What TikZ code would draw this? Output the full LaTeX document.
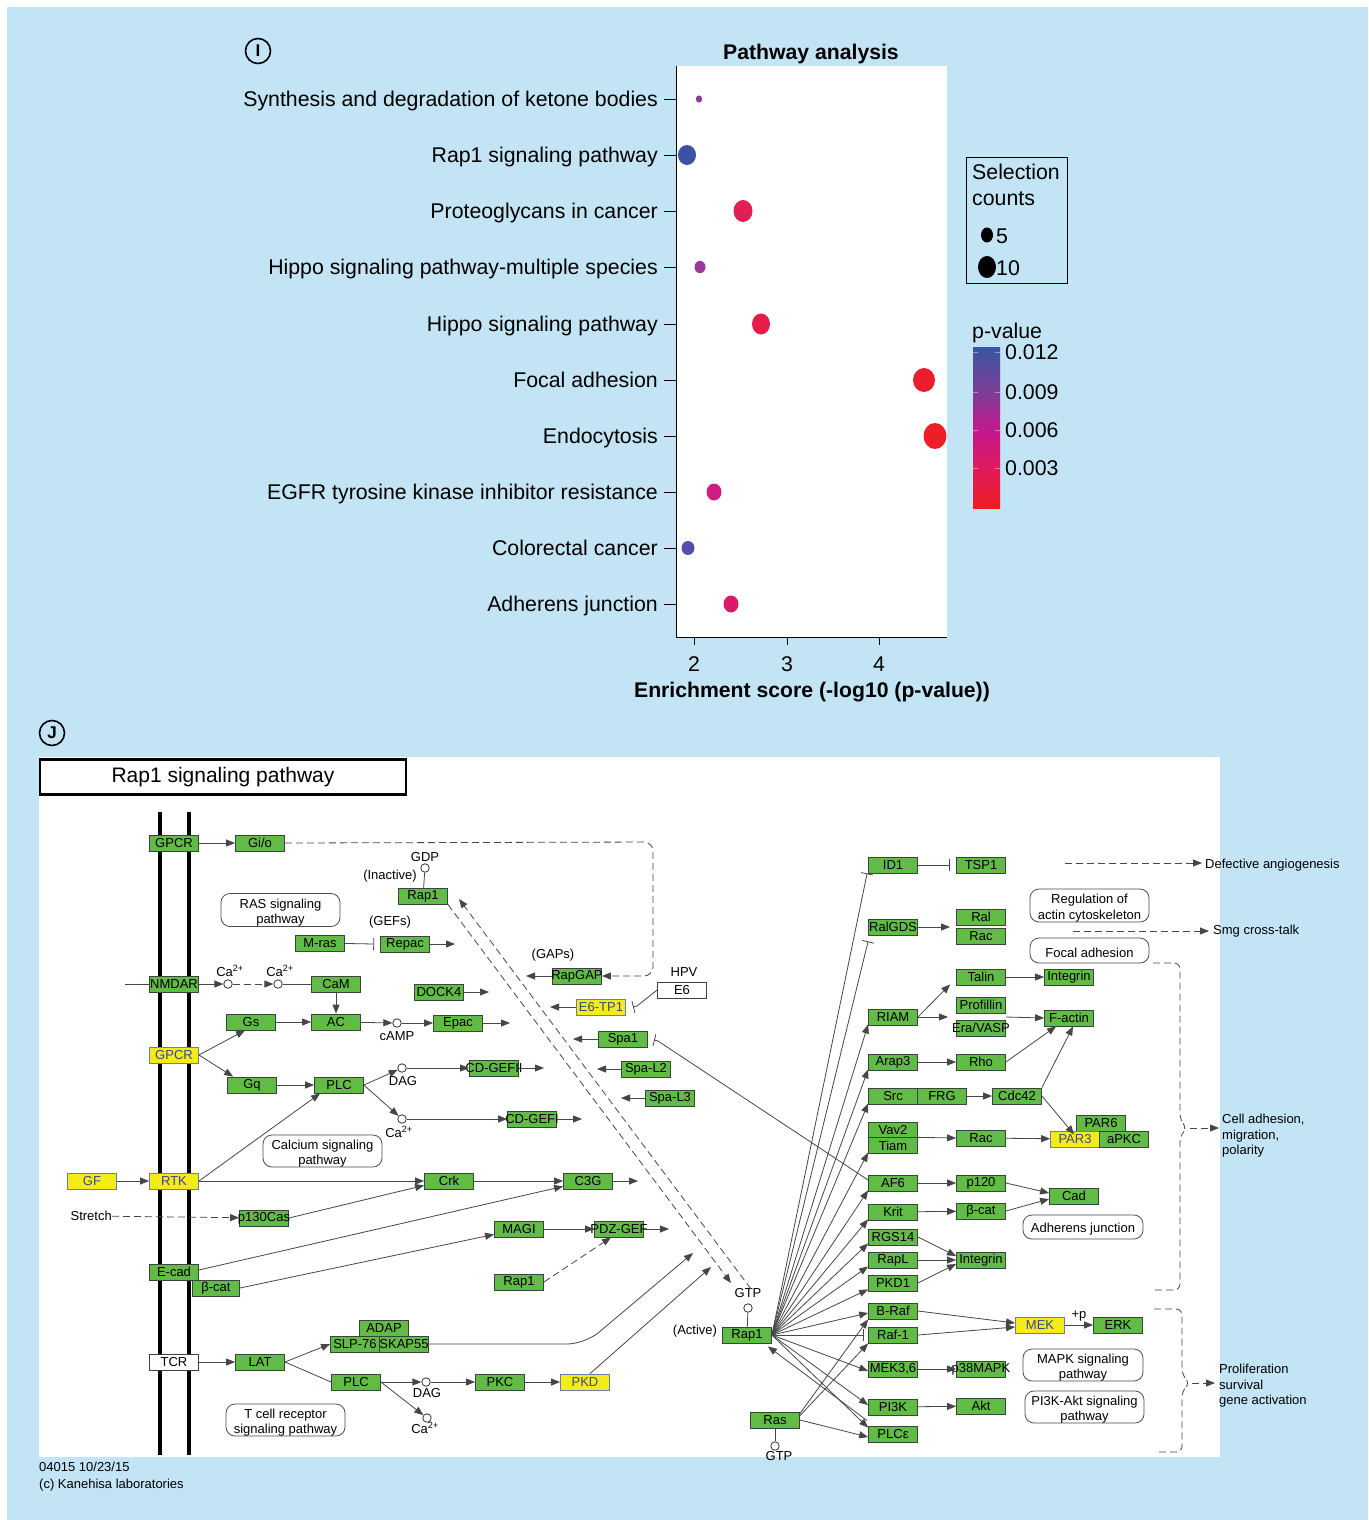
\documentclass[tikz,border=0pt]{standalone}
\usepackage{fontspec}
\setmainfont{Liberation Sans}
\usetikzlibrary{arrows.meta}
\definecolor{bgblue}{RGB}{194,228,245}
\definecolor{kgreen}{RGB}{98,187,71}
\definecolor{kborder}{RGB}{55,70,55}
\definecolor{kyellow}{RGB}{244,236,22}
\definecolor{kyborder}{RGB}{110,120,190}
\definecolor{kytext}{RGB}{60,70,150}
\definecolor{lgray}{RGB}{70,70,70}
\definecolor{pblue}{RGB}{58,84,164}
\definecolor{ppur}{RGB}{125,62,150}
\definecolor{pmag}{RGB}{196,24,140}
\definecolor{pcrim}{RGB}{225,26,90}
\definecolor{pred}{RGB}{237,28,36}
\definecolor{dA}{RGB}{140,60,155}
\definecolor{dB}{RGB}{60,80,165}
\definecolor{dC}{RGB}{226,30,86}
\definecolor{dD}{RGB}{150,58,155}
\definecolor{dE}{RGB}{228,30,72}
\definecolor{dF}{RGB}{235,30,44}
\definecolor{dG}{RGB}{236,30,40}
\definecolor{dH}{RGB}{205,30,130}
\definecolor{dI}{RGB}{85,78,168}
\definecolor{dJ}{RGB}{216,28,105}
\pgfdeclareverticalshading{pvshade}{100bp}{color(0bp)=(pred); color(25bp)=(pred); color(37bp)=(pcrim); color(49bp)=(pmag); color(61bp)=(ppur); color(75bp)=(pblue); color(100bp)=(pblue)}
\newcommand\kfont{\fontsize{13}{15.5}\selectfont}
\newcommand\afont{\fontsize{21.3}{25}\selectfont}
\newcommand\tfont{\fontsize{21.2}{25}\selectfont\bfseries}
\tikzset{
  gene/.style={draw=kborder, fill=kgreen, minimum width=49pt, minimum height=16pt, inner sep=0pt, font=\kfont, line width=0.8pt},
  ygene/.style={gene, draw=kyborder, fill=kyellow, text=kytext},
  wgene/.style={gene, fill=white},
  pwy/.style={draw=black!70, rounded corners=9pt, fill=white, inner sep=0pt, line width=0.8pt},
  pwytext/.style={font=\kfont, align=center, inner sep=0pt, yshift=-2.5pt},
  lbl/.style={font=\kfont, inner sep=0pt},
  cpd/.style={circle, draw=black!80, fill=white, minimum size=8.5pt, inner sep=0pt, line width=0.8pt},
  act/.style={draw=lgray, line width=0.8pt, -{Triangle[length=9pt,width=7pt]}},
  inh/.style={draw=lgray, line width=0.8pt, -{Bar[width=12pt]}},
  pln/.style={draw=lgray, line width=0.8pt},
  dsh/.style={dash pattern=on 7pt off 4pt},
  rlab/.style={font=\afont, anchor=east, inner sep=0pt, text height=15pt, text depth=4pt},
  leglab/.style={font=\afont, anchor=west, inner sep=0pt, text height=15pt, text depth=4pt},
  panlet/.style={circle, draw, line width=1.6pt, minimum size=25pt, inner sep=0pt, font=\fontsize{17}{17}\selectfont\bfseries}
}
\begin{document}
\begin{tikzpicture}[x=1pt,y=-1pt]
\useasboundingbox (0,0) rectangle (1368,1520);
\fill[white] (0,0) rectangle (1368,1520);
\fill[bgblue] (7,7) rectangle (1368,1520);

% ---------------- Panel I ----------------
\node[panlet] (letI) at (258,51) {I};
\fill[white] (676,66) rectangle (947,637);
\node[font=\tfont] (ptitle) at (811,54) {Pathway analysis};
\draw[line width=0.9pt] (676,66) -- (676,637) -- (947,637);
\foreach \n/\y/\t in {r1/99/Synthesis and degradation of ketone bodies, r2/155/Rap1 signaling pathway, r3/211/Proteoglycans in cancer, r4/267/Hippo signaling pathway-multiple species, r5/324/Hippo signaling pathway, r6/380/Focal adhesion, r7/436/Endocytosis, r8/492/EGFR tyrosine kinase inhibitor resistance, r9/548/Colorectal cancer, r10/604/Adherens junction}{
  \node[rlab] (\n) at (658,\y+2) {\t};
  \draw[line width=0.9pt] (664,\y) -- (676,\y);
}
\foreach \n/\x/\t in {x2/694/2, x3/787/3, x4/879/4}{
  \draw[line width=0.9pt] (\x,637) -- (\x,645);
  \node[font=\afont, inner sep=0pt] (\n) at (\x,664) {\t};
}
\node[font=\tfont] (xtitle) at (812,692) {Enrichment score (-log10 (p-value))};
\foreach \x/\y/\rx/\ry/\c in {699/99/3.2/3.6/dA, 687/155/9/10/dB, 743/211/9.5/11/dC, 700/267/5.5/6.2/dD, 761/324/9/10.5/dE, 924/380/11/12/dF, 935/436/11.5/13/dG, 714/492/7.5/8.5/dH, 688/548/6.5/7/dI, 731/604/7.5/8.5/dJ}{
  \fill[\c] (\x,\y) ellipse [x radius=\rx pt, y radius=\ry pt];
}
% legend
\draw[line width=0.9pt] (966,157) rectangle (1067,283);
\node[leglab] (selA) at (972,174) {Selection};
\node[leglab] (selB) at (972,200) {counts};
\fill[black] (987,235) ellipse [x radius=6pt, y radius=7.5pt];
\node[leglab] (s5) at (996,238) {5};
\fill[black] (987,267) ellipse [x radius=9pt, y radius=11pt];
\node[leglab] (s10) at (996,270) {10};
\node[leglab] (pv) at (972,333) {p-value};
\shade[shading=pvshade] (973,347) rectangle (1000,508);
\foreach \n/\y/\t in {p1/352/0.012, p2/392/0.009, p3/430/0.006, p4/468/0.003}{
  \node[leglab] (\n) at (1005,\y+2) {\t};
  \draw[white, opacity=0.4, line width=0.6pt] (973,\y) -- (978,\y) (995,\y) -- (1000,\y);
}

% ---------------- Panel J ----------------
\node[panlet] (letJ) at (52,733) {J};
\fill[white] (39,757) rectangle (1220,1457);
\node[draw, line width=2.6pt, fill=white, minimum width=366pt, minimum height=35pt, font=\fontsize{21}{24}\selectfont] (ptitleJ) at (223,777) {Rap1 signaling pathway};
\draw[line width=4pt] (160,812) -- (160,1455);
\draw[line width=4pt] (189,812) -- (189,1455);
\node[lbl, anchor=west] (foot1) at (39,1467) {04015 10/23/15};
\node[lbl, anchor=west] (foot2) at (39,1485) {(c) Kanehisa laboratories};

% pathway boxes
\node[pwy, minimum width=119pt, minimum height=33pt, label={[pwytext]center:RAS signaling\\pathway}] (rasp) at (280.5,910) {};
\node[pwy, minimum width=119pt, minimum height=32pt, label={[pwytext]center:Calcium signaling\\pathway}] (calp) at (322.5,1151) {};
\node[pwy, minimum width=119pt, minimum height=32pt, label={[pwytext]center:T cell receptor\\signaling pathway}] (tcrp) at (285.5,1420) {};
\node[pwy, minimum width=119pt, minimum height=33pt, label={[pwytext]center:Regulation of\\actin cytoskeleton}] (actp) at (1089.5,905.5) {};
\node[pwy, minimum width=119pt, minimum height=25pt, label={[pwytext]center:Focal adhesion}] (focp) at (1089.5,950.5) {};
\node[pwy, minimum width=120pt, minimum height=24pt, label={[pwytext]center:Adherens junction}] (adjp) at (1083,1227) {};
\node[pwy, minimum width=120pt, minimum height=32pt, label={[pwytext]center:MAPK signaling\\pathway}] (mapp) at (1083,1365) {};
\node[pwy, minimum width=119pt, minimum height=32pt, label={[pwytext]center:PI3K-Akt signaling\\pathway}] (pi3p) at (1084.5,1407) {};

% genes - left
\node[gene] (gpcrA) at (174,843) {GPCR};
\node[gene] (gio) at (260,843) {Gi/o};
\node[gene] (mras) at (320,943) {M-ras};
\node[gene] (nmdar) at (174,984) {NMDAR};
\node[gene] (cam) at (336,984) {CaM};
\node[gene] (gs) at (251,1022) {Gs};
\node[gene] (ac) at (336,1022) {AC};
\node[ygene] (gpcrB) at (174,1055) {GPCR};
\node[gene] (gq) at (252,1085) {Gq};
\node[gene] (plcA) at (339,1085) {PLC};
\node[ygene] (gf) at (92,1181) {GF};
\node[ygene] (rtk) at (174,1181) {RTK};
\node[gene, label={[lbl]center:p130Cas}] (pcas) at (264,1218) {};
\node[gene] (ecad) at (174,1272) {E-cad};
\node[gene, minimum width=47pt] (bcatA) at (216,1288) {β-cat};
\node[wgene] (tcr) at (174,1362) {TCR};
\node[gene] (lat) at (260,1362) {LAT};
\node[gene] (adap) at (384,1328) {ADAP};
\node[gene] (slp) at (355,1344) {SLP-76};
\node[gene, label={[lbl]center:SKAP55}] (skap) at (404,1344) {};
\node[gene] (plcB) at (356,1382) {PLC};
\node[gene] (pkc) at (500,1382) {PKC};
\node[ygene] (pkd) at (585,1382) {PKD};
% genes - middle
\node[gene] (rap1i) at (423,896) {Rap1};
\node[gene] (repac) at (405,944) {Repac};
\node[gene] (dock4) at (439,992) {DOCK4};
\node[gene] (epac) at (458,1023) {Epac};
\node[gene, label={[lbl]center:CD-GEFII}] (cdgef2) at (494,1068) {};
\node[gene, label={[lbl]center:CD-GEFI}] (cdgef1) at (532,1119) {};
\node[gene] (crk) at (449,1181) {Crk};
\node[gene] (c3g) at (588,1181) {C3G};
\node[gene] (magi) at (519,1229) {MAGI};
\node[gene, label={[lbl]center:PDZ-GEF}] (pdzgef) at (619,1229) {};
\node[gene] (rap1m) at (519,1282) {Rap1};
\node[gene, label={[lbl]center:RapGAP}] (rapgap) at (577,976) {};
\node[ygene] (e6tp1) at (601,1007) {E6-TP1};
\node[wgene] (e6) at (682,990) {E6};
\node[gene] (spa1) at (623,1039) {Spa1};
\node[gene] (spal2) at (646,1069) {Spa-L2};
\node[gene] (spal3) at (670,1098) {Spa-L3};
\node[gene] (rap1a) at (747,1335) {Rap1};
\node[gene] (ras) at (775,1420) {Ras};
% genes - right
\node[gene] (id1) at (893,865) {ID1};
\node[gene] (tsp1) at (981,865) {TSP1};
\node[gene] (ralgds) at (893,927) {RalGDS};
\node[gene] (ral) at (981,917) {Ral};
\node[gene] (rac1) at (981,936) {Rac};
\node[gene] (talin) at (981,977) {Talin};
\node[gene] (integA) at (1069,977) {Integrin};
\node[gene] (riam) at (893,1017) {RIAM};
\node[gene] (profillin) at (981,1005) {Profillin};
\node[gene, label={[lbl]center:Era/VASP}] (eravasp) at (981,1028) {};
\node[gene] (fact) at (1069,1018) {F-actin};
\node[gene] (arap3) at (893,1062) {Arap3};
\node[gene] (rho) at (981,1062) {Rho};
\node[gene] (src) at (893,1096) {Src};
\node[gene] (frg) at (942,1096) {FRG};
\node[gene] (cdc42) at (1017,1096) {Cdc42};
\node[gene] (par6) at (1101,1123) {PAR6};
\node[ygene] (par3) at (1075,1139) {PAR3};
\node[gene] (apkc) at (1124,1139) {aPKC};
\node[gene, minimum height=15.5pt] (vav2) at (893,1130) {Vav2};
\node[gene, minimum height=15.5pt] (tiam) at (893,1145.5) {Tiam};
\node[gene] (rac2) at (981,1138) {Rac};
\node[gene] (af6) at (893,1183) {AF6};
\node[gene] (p120) at (981,1183) {p120};
\node[gene] (krit) at (893,1212) {Krit};
\node[gene] (bcatB) at (981,1211) {β-cat};
\node[gene] (cad) at (1074,1196) {Cad};
\node[gene] (rgs14) at (893,1237) {RGS14};
\node[gene] (rapl) at (893,1260) {RapL};
\node[gene] (pkd1) at (893,1283) {PKD1};
\node[gene] (integB) at (981,1260) {Integrin};
\node[gene] (braf) at (893,1311) {B-Raf};
\node[gene] (raf1) at (893,1335) {Raf-1};
\node[gene] (mek36) at (893,1369) {MEK3,6};
\node[gene, label={[lbl]center:p38MAPK}] (p38) at (981,1369) {};
\node[gene] (pi3k) at (893,1407) {PI3K};
\node[gene] (akt) at (981,1406) {Akt};
\node[gene] (plce) at (893,1434) {PLCε};
\node[ygene] (mek) at (1040,1325) {MEK};
\node[gene] (erk) at (1118,1325) {ERK};

% compounds
\node[cpd] (ca1) at (228,984) {};
\node[cpd] (ca2) at (278,984) {};
\node[cpd] (camp) at (397,1023) {};
\node[cpd] (dag1) at (402,1068) {};
\node[cpd] (ca3) at (402,1119) {};
\node[cpd] (dag2) at (426,1382) {};
\node[cpd] (ca4) at (427,1418) {};
\node[cpd] (gdp) at (425,868) {};
\node[cpd] (gtpA) at (748,1308) {};
\node[cpd] (gtpR) at (775,1446) {};

% small text labels
\node[lbl] (tca1) at (230,971) {Ca\textsuperscript{2+}};
\node[lbl] (tca2) at (280,971) {Ca\textsuperscript{2+}};
\node[lbl] (tcamp) at (397,1036) {cAMP};
\node[lbl] (tdag1) at (403,1081) {DAG};
\node[lbl] (tca3) at (399,1132) {Ca\textsuperscript{2+}};
\node[lbl] (tdag2) at (427,1393) {DAG};
\node[lbl] (tca4) at (425,1428) {Ca\textsuperscript{2+}};
\node[lbl] (tgdp) at (425,857) {GDP};
\node[lbl] (tinact) at (390,876) {(Inactive)};
\node[lbl] (tgefs) at (390,922) {(GEFs)};
\node[lbl] (tgaps) at (553,955) {(GAPs)};
\node[lbl] (thpv) at (684,972) {HPV};
\node[lbl] (tgtpA) at (748,1293) {GTP};
\node[lbl] (tactive) at (695,1331) {(Active)};
\node[lbl] (tgtpR) at (779,1456) {GTP};
\node[lbl, anchor=east] (stretch) at (112,1216) {Stretch};
\node[lbl] (tplus) at (1079,1316) {+p};
\node[lbl, anchor=west] (tdef) at (1205,865) {Defective angiogenesis};
\node[lbl, anchor=west] (tsmg) at (1213,931) {Smg cross-talk};
\node[lbl, anchor=north west, align=left] (tcell) at (1222,1114) {Cell adhesion,\\migration,\\polarity};
\node[lbl, anchor=north west, align=left] (tprol) at (1219,1364) {Proliferation\\survival\\gene activation};

% free coordinates
\coordinate (nmdarin) at (125,984);
\coordinate (giocorner) at (653,842);
\coordinate (giocorner2) at (653,976);
\coordinate (repacout) at (455,944);
\coordinate (dockout) at (489,992);
\coordinate (epacout) at (510,1023);
\coordinate (cdgef2out) at (544,1068);
\coordinate (cdgef1out) at (582,1119);
\coordinate (c3gout) at (638,1181);
\coordinate (pdzout) at (669,1229);
\coordinate (rapgapout) at (526,976);
\coordinate (e6tp1out) at (550,1007);
\coordinate (spa1out) at (573,1039);
\coordinate (spal2out) at (597,1069);
\coordinate (spal3out) at (621,1098);
\coordinate (dLa) at (731,1283);
\coordinate (dLb) at (751,1289);
\coordinate (dLc) at (459,899);
\coordinate (skapbend) at (585,1344);
\coordinate (skapout) at (693,1253);
\coordinate (pkdout) at (711,1267);
\coordinate (e6bend) at (637,1006);
\coordinate (e6end) at (633,1007);
\coordinate (af6bend) at (658,1041);
\coordinate (af6end) at (654,1040);
\coordinate (ralgdsout) at (950,927);
\coordinate (riamout) at (948,1017);
\coordinate (profout) at (1006,1017);
\coordinate (defA) at (1065,863);
\coordinate (defB) at (1202,863);
\coordinate (smgA) at (1073,931);
\coordinate (smgB) at (1209,931);
\coordinate (brA) at (1190,1128);
\coordinate (brB) at (1219,1128);
\coordinate (brC) at (1192,1383);
\coordinate (brD) at (1215,1383);

% left connectors
\draw[act] (gpcrA) -- (gio);
\draw[act, dsh, rounded corners=9pt] (gio.east) -- (giocorner) -- (giocorner2) -- (rapgap.east);
\draw[pln] (nmdarin) -- (nmdar.west);
\draw[act] (nmdar) -- (ca1);
\draw[act, dsh] (ca1) -- (ca2);
\draw[pln] (ca2) -- (cam);
\draw[act] (cam) -- (ac);
\draw[act] (gs) -- (ac);
\draw[act] (ac) -- (camp);
\draw[act] (camp) -- (epac);
\draw[act] (epac) -- (epacout);
\draw[act] (gpcrB.east) -- ([xshift=-6pt]gs.south);
\draw[act] (gpcrB.east) -- ([xshift=6pt]gq.north west);
\draw[act] (gq) -- (plcA);
\draw[act] (rtk.east) -- ([xshift=6pt]plcA.south west);
\draw[act] (plcA.east) -- (dag1);
\draw[act] (plcA.east) -- (ca3);
\draw[act] (dag1) -- (cdgef2);
\draw[act] (cdgef2) -- (cdgef2out);
\draw[act] (ca3) -- (cdgef1);
\draw[act] (cdgef1) -- (cdgef1out);
\draw[inh] (mras) -- ([xshift=-6pt]repac.west);
\draw[act] (repac) -- (repacout);
\draw[act] (dock4) -- (dockout);
\draw[pln] (gdp) -- (rap1i);
\draw[act] (gf) -- (rtk);
\draw[act] (rtk) -- (crk);
\draw[act, dsh] (stretch) -- (pcas);
\draw[act] (pcas.east) -- ([yshift=4pt]crk.south west);
\draw[act] (crk) -- (c3g);
\draw[act] (c3g) -- (c3gout);
\draw[act] ([yshift=2pt]ecad.east) -- ([yshift=3pt]c3g.south west);
\draw[act] (bcatA.east) -- ([yshift=3pt]magi.south west);
\draw[act] (magi) -- (pdzgef);
\draw[act] (pdzgef) -- (pdzout);
\draw[act, dsh] (rap1m.east) -- ([xshift=-8pt]pdzgef.south);
\draw[act] (tcr) -- (lat);
\draw[act] (lat.east) -- (slp.west);
\draw[pln] (lat.east) -- (plcB.west);
\draw[act] (plcB.east) -- (dag2);
\draw[act] (plcB.east) -- (ca4);
\draw[act] (dag2) -- (pkc);
\draw[act] (pkc) -- (pkd);
\draw[act, rounded corners=18pt] (skap.east) -- (skapbend) -- (skapout);
\draw[act] ([xshift=5pt]pkd.north) -- (pkdout);
% middle connectors
\draw[act, dsh] (rap1i.south east) -- (dLa);
\draw[act, dsh] (dLb) -- (dLc);
\draw[act] (rapgap) -- (rapgapout);
\draw[act] (e6tp1) -- (e6tp1out);
\draw[act] (spa1) -- (spa1out);
\draw[act] (spal2) -- (spal2out);
\draw[act] (spal3) -- (spal3out);
\draw[inh] (e6.west) -- (e6bend) -- (e6end);
\draw[inh] ([yshift=3pt]af6.west) -- (af6bend) -- (af6end);
\draw[pln] (rap1a) -- (gtpA);
\draw[pln] (ras) -- (gtpR);
% Rap1 fan
\draw[inh] (rap1a.east) -- ([xshift=-1pt]id1.south west);
\draw[inh] (rap1a.east) -- ([yshift=-6pt]ralgds.south west);
\draw[act] (rap1a.east) -- ([yshift=1pt]riam.south west);
\draw[act] (rap1a.east) -- ([yshift=1pt]arap3.south west);
\draw[act] (rap1a.east) -- ([yshift=1pt]src.south west);
\draw[act] (rap1a.east) -- ([yshift=1pt]tiam.south west);
\draw[act] (rap1a.east) -- ([yshift=1pt]af6.south west);
\draw[act] (rap1a.east) -- ([yshift=1pt]krit.south west);
\draw[act] (rap1a.east) -- ([yshift=2pt]rgs14.south west);
\draw[act] (rap1a.east) -- ([yshift=2pt]rapl.south west);
\draw[act] (rap1a.east) -- ([yshift=2pt]pkd1.south west);
\draw[act] (rap1a.east) -- ([yshift=-2pt]braf.west);
\draw[inh] (rap1a.east) -- ([xshift=-4pt]raf1.west);
\draw[act] (rap1a.east) -- ([yshift=-2pt]mek36.west);
\draw[act] (rap1a.east) -- ([yshift=2pt]pi3k.west);
\draw[act] (rap1a.east) -- ([yshift=-2pt]plce.north west);
\draw[act] ([xshift=-1pt,yshift=5pt]plce.north west) -- ([xshift=-4pt,yshift=-3pt]rap1a.south east);
\draw[act] ([yshift=-2pt]ras.north east) -- (braf.south west);
\draw[act] ([yshift=-4pt]ras.north east) -- (raf1.south west);
\draw[act] (ras.east) -- ([yshift=-3pt]plce.west);
% right connectors
\draw[inh] (id1) -- ([xshift=-6pt]tsp1.west);
\draw[act] (ralgds) -- (ralgdsout);
\draw[act] (riam.east) -- ([xshift=-6pt,yshift=1pt]talin.south west);
\draw[act] (riam.east) -- (riamout);
\draw[act] (profout) -- ([yshift=0pt]fact.west);
\draw[act] (talin) -- (integA);
\draw[act] (arap3) -- (rho);
\draw[act] (rho.east) -- ([xshift=-13pt]fact.south);
\draw[act] (cdc42.north east) -- ([xshift=4pt]fact.south);
\draw[act] (frg) -- (cdc42);
\draw[act] (cdc42.east) -- ([xshift=-2pt,yshift=-3pt]par6.south west);
\draw[act] (tiam.north east) -- (rac2.west);
\draw[act] (rac2) -- (par3);
\draw[act] (af6) -- (p120);
\draw[act] (krit) -- (bcatB);
\draw[act] (p120.east) -- ([yshift=3pt]cad.west);
\draw[act] (bcatB.east) -- ([yshift=-3pt]cad.west);
\draw[act] (rgs14.east) -- ([yshift=4pt]integB.west);
\draw[act] (rapl) -- (integB);
\draw[act] (pkd1.east) -- ([yshift=-4pt]integB.west);
\draw[act] (braf.east) -- ([yshift=2pt]mek.west);
\draw[act] (raf1.east) -- ([yshift=-2pt]mek.west);
\draw[act] (mek) -- (erk);
\draw[act] (mek36) -- (p38);
\draw[act] (pi3k) -- (akt);
\draw[act, dsh] (defA) -- (defB);
\draw[act, dsh] (smgA) -- (smgB);
\draw[pln, dsh, rounded corners=6pt] (1153,963) -- (1180,963) -- (1180,1120) -- (1187,1128) -- (1180,1136) -- (1180,1290) -- (1153,1290);
\draw[act, dsh] (brA) -- (brB);
\draw[pln, dsh, rounded corners=6pt] (1154,1309) -- (1182,1309) -- (1182,1375) -- (1190,1383) -- (1182,1391) -- (1182,1452) -- (1157,1452);
\draw[act, dsh] (brC) -- (brD);
\end{tikzpicture}
\end{document}
